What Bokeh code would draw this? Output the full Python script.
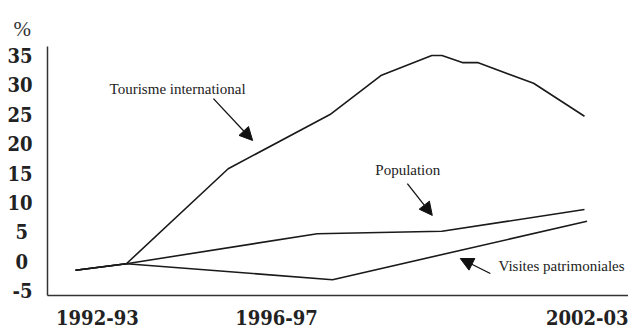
from bokeh.plotting import figure
from bokeh.models import Range1d, FixedTicker, Label, Arrow, NormalHead
from bokeh.embed import file_html
from bokeh.resources import INLINE

# ---- data (period index: 0 = 1992-93 ... 10 = 2002-03), values in %
tour_x = [0, 1, 3, 5, 6, 7, 7.2, 7.6, 7.9, 9, 10]
tour_y = [-1.4, -0.3, 15.8, 25.0, 31.6, 35.0, 35.0, 33.8, 33.8, 30.3, 24.7]

pop_x = [0, 1, 4.75, 7.2, 10]
pop_y = [-1.4, -0.3, 4.8, 5.2, 8.9]

vis_x = [0, 1, 5.05, 10.05]
vis_y = [-1.4, -0.3, -3.0, 6.9]

y_ticks = [-5, 0, 5, 10, 15, 20, 25, 30, 35]
x_tick_pos = [0.43, 3.95, 10.1]
x_tick_labels = ["1992-93", "1996-97", "2002-03"]

SERIF = "Liberation Serif"
TICKFONT = "DejaVu Serif Condensed"

p = figure(width=628, height=333, output_backend="svg", toolbar_location=None,
           x_range=Range1d(-0.55, 10.865), y_range=Range1d(-5.68, 36.53),
           min_border_left=47, min_border_right=0, min_border_top=46,
           min_border_bottom=38, title="%")
p.outline_line_color = None
p.grid.visible = False
p.background_fill_color = "white"
p.border_fill_color = "white"

p.title.align = "left"
p.title.offset = -34
p.title.standoff = 12
p.title.text_font = SERIF
p.title.text_font_style = "normal"
p.title.text_font_size = "21px"
p.title.text_color = "#333333"

for ax in (p.xaxis[0], p.yaxis[0]):
    ax.axis_line_color = "#333333"
    ax.axis_line_width = 1.5
    ax.major_tick_line_color = None
    ax.minor_tick_line_color = None
    ax.major_tick_in = 0
    ax.major_tick_out = 0
    ax.major_label_text_font = TICKFONT
    ax.major_label_text_font_style = "bold"
    ax.major_label_text_font_size = "20px"
    ax.major_label_text_color = "#222222"

p.yaxis.ticker = FixedTicker(ticks=y_ticks)
p.yaxis.major_label_standoff = 15
# single-digit labels padded on the right by half a digit so they sit centred
p.yaxis.major_label_overrides = {t: (str(t) + "\u2005" if len(str(t)) == 1 else str(t))
                                 for t in y_ticks}
p.xaxis.ticker = FixedTicker(ticks=x_tick_pos)
p.xaxis.major_label_overrides = {k: v for k, v in zip(x_tick_pos, x_tick_labels)}
p.xaxis.major_label_standoff = 14

lw = 1.6
p.line(tour_x, tour_y, line_color="#1a1a1a", line_width=lw)
p.line(pop_x, pop_y, line_color="#1a1a1a", line_width=lw)
p.line(vis_x, vis_y, line_color="#1a1a1a", line_width=lw)

# ---- annotations
def lab(x, y, t):
    p.add_layout(Label(x=x, y=y, text=t, text_font=SERIF, text_font_size="15px",
                       text_align="left", text_baseline="middle", text_color="#222222"))

lab(0.67, 29.4, "Tourisme international")
lab(5.89, 15.6, "Population")
lab(8.31, -0.7, "Visites patrimoniales")

def arr(xs, ys, xe, ye):
    p.add_layout(Arrow(end=NormalHead(size=13, fill_color="#111111", line_color="#111111"),
                       x_start=xs, y_start=ys, x_end=xe, y_end=ye,
                       line_color="#111111", line_width=1.3))

arr(2.71, 27.7, 3.48, 20.6)
arr(6.52, 13.3, 7.01, 7.9)
arr(8.15, -1.95, 7.56, 0.59)

open("out.html", "w").write(file_html(p, INLINE))
